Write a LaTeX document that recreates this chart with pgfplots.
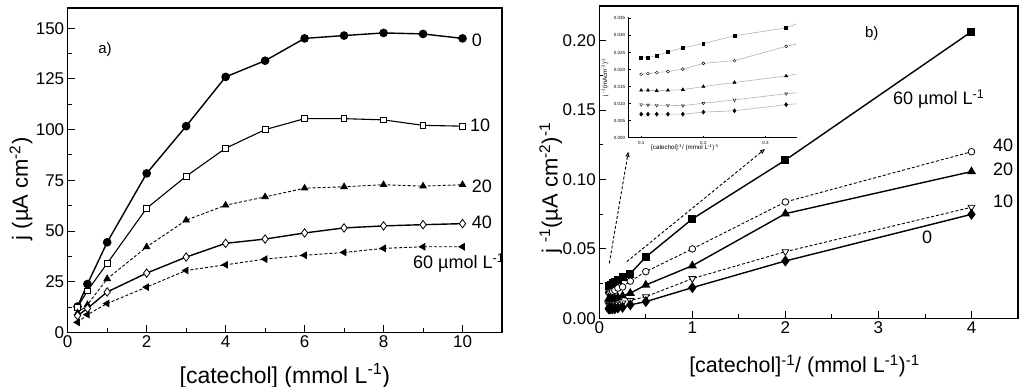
\documentclass[border=0pt]{standalone}
\usepackage{fontspec}
\setmainfont{Liberation Sans}
\usepackage{pgfplots}
\usepackage{pgfplotstable}
\pgfplotsset{compat=1.18}
\usetikzlibrary{arrows.meta}

\pgfplotstableread{
x     s0     s10    s20    s40    s60
0.25  12.7   12.4   9.5    8.2    4.9
0.5   23.8   20.5   13.6   11.8   8.7
1     44.4   34.0   26.4   19.9   14.2
2     78.4   61.2   42.1   29.2   22.3
3     101.7  77.0   55.3   37.1   30.5
4     126.0  90.8   62.7   43.9   33.3
5     134.0  100.0  66.8   46.0   36.1
6     145.0  105.4  71.1   49.0   38.0
7     146.4  105.4  71.8   51.5   39.4
8     147.7  104.8  72.8   52.5   41.4
9     147.2  102.1  72.1   53.1   42.2
10    145.0  101.7  72.8   53.6   42.2
}\leftdata

\pgfplotstableread{
x      s0      s10     s20     s40     s60
0.1    0.0069  0.0097  0.0139  0.0186  0.0235
0.111  0.0069  0.0096  0.0139  0.0188  0.0235
0.125  0.0069  0.0095  0.0138  0.0191  0.0241
0.143  0.0069  0.0095  0.0139  0.0194  0.0251
0.167  0.0069  0.0094  0.0141  0.0201  0.0264
0.2    0.0075  0.0101  0.0150  0.0218  0.0276
0.25   0.0079  0.0111  0.0162  0.0226  0.0299
0.333  0.0097  0.0129  0.0181  0.0268  0.0322
0.5    0.0120  0.0156  0.0240  0.0336  0.0442
1      0.0221  0.0286  0.0379  0.0500  0.0716
2      0.0413  0.0480  0.0754  0.0838  0.1140
4      0.0749  0.0800  0.1057  0.1200  0.2065
}\rightdata

\begin{document}
\begin{tikzpicture}[x=1pt,y=1pt]
\path[use as bounding box] (0,0) rectangle (1024,387);

\pgfplotsset{
  mainax/.style={
    scale only axis,
    font=\fontsize{17}{19}\selectfont,
    /pgf/number format/assume math mode=true,
    tick align=inside,
    tick pos=left,
    axis line style={line width=1.1pt},
    every tick/.style={black,line width=0.9pt},
    major tick length=7pt,
    minor tick length=4pt,
    minor x tick num=1,
    minor y tick num=1,
  },
  dsh/.style={line width=0.9pt, dash pattern=on 3pt off 2pt},
}

% ---------- left panel ----------
\begin{axis}[mainax,
  at={(67.7pt,54.7pt)}, anchor=south west,
  width=434.3pt, height=324.3pt,
  xmin=0, xmax=11, ymin=0, ymax=160,
  xtick={0,2,4,6,8,10}, ytick={0,25,50,75,100,125,150},
  xlabel={[catechol] (mmol L\textsuperscript{-1})},
  ylabel={j (µA cm\textsuperscript{-2})},
  x label style={font=\fontsize{23}{25}\selectfont, at={(axis description cs:0.5,-0.135)},anchor=center},
  y label style={font=\fontsize{22}{24}\selectfont, at={(axis description cs:-0.1075,0.442)},anchor=center},
]
\addplot[black, line width=1.4pt, mark=*, mark size=3.6pt] table[x=x,y=s0]{\leftdata};
\addplot[black, line width=1.1pt, mark=square*, mark size=2.8pt, mark options={fill=white,line width=0.8pt}] table[x=x,y=s10]{\leftdata};
\addplot[black, dsh, mark=triangle*, mark size=3.6pt, mark options={solid}] table[x=x,y=s20]{\leftdata};
\addplot[black, line width=1.4pt, mark=diamond*, mark size=4.2pt, mark options={fill=white,line width=0.8pt}] table[x=x,y=s40]{\leftdata};
\addplot[black, dsh, mark=triangle*, mark size=3.6pt, mark options={solid,rotate=90}] table[x=x,y=s60]{\leftdata};
\end{axis}

% ---------- right panel ----------
\begin{axis}[mainax,
  at={(599.3pt,68.7pt)}, anchor=south west,
  width=418.7pt, height=312.3pt,
  xmin=0, xmax=4.5, ymin=0, ymax=0.225,
  xtick={0,1,2,3,4}, ytick={0,0.05,0.10,0.15,0.20},
  scaled y ticks=false,
  yticklabel style={/pgf/number format/fixed,/pgf/number format/fixed zerofill,/pgf/number format/precision=2},
  xlabel={[catechol]\textsuperscript{-1}/ (mmol L\textsuperscript{-1})\textsuperscript{-1}},
  ylabel={j \textsuperscript{-1}(µA cm\textsuperscript{-2})\textsuperscript{-1}},
  x label style={font=\fontsize{21.5}{24}\selectfont, at={(axis description cs:0.49,-0.153)},anchor=center},
  y label style={font=\fontsize{22}{24}\selectfont, at={(axis description cs:-0.116,0.417)},anchor=center},
]
\addplot[black, line width=1.4pt, mark=square*, mark size=3.3pt] table[x=x,y=s60]{\rightdata};
\addplot[black, dsh, mark=*, mark size=3.3pt, mark options={solid,fill=white,line width=0.8pt}] table[x=x,y=s40]{\rightdata};
\addplot[black, line width=1.4pt, mark=triangle*, mark size=3.9pt] table[x=x,y=s20]{\rightdata};
\addplot[black, dsh, mark=triangle*, mark size=3.9pt, mark options={solid,fill=white,rotate=180,line width=0.8pt}] table[x=x,y=s10]{\rightdata};
\addplot[black, line width=1.4pt, mark=diamond*, mark size=4.4pt] table[x=x,y=s0]{\rightdata};
\end{axis}

% ---------- inset ----------
\begin{axis}[
  at={(628.7pt,249.3pt)}, anchor=south west,
  scale only axis, width=168pt, height=121pt,
  xmin=0.08, xmax=0.35, ymin=0, ymax=0.0355,
  axis x line*=bottom, axis y line*=left,
  axis line style={line width=0.6pt},
  every tick/.style={black,line width=0.4pt},
  major tick length=2pt,
  tick align=inside,
  font=\fontsize{4.5}{5}\selectfont,
  /pgf/number format/assume math mode=true,
  xtick={0.1,0.2,0.3},
  ytick={0,0.005,0.010,0.015,0.020,0.025,0.030,0.035},
  scaled y ticks=false, scaled x ticks=false,
  yticklabel style={/pgf/number format/fixed,/pgf/number format/fixed zerofill,/pgf/number format/precision=3},
  xticklabel style={/pgf/number format/fixed,/pgf/number format/precision=1},
  clip marker paths=true,
  xlabel={[catechol]\textsuperscript{-1}/ (mmol L\textsuperscript{-1})\textsuperscript{-1}},
  ylabel={j \textsuperscript{-1}(mAcm\textsuperscript{-2})\textsuperscript{-1}},
  label style={font=\fontsize{6.2}{7}\selectfont},
  x label style={at={(axis description cs:0.335,-0.083)},anchor=center},
  y label style={at={(axis description cs:-0.141,0.5)},anchor=center},
]
\addplot[gray!60, line width=0.6pt, mark=square*, mark size=1.4pt, mark options={black}] table[x=x,y=s60]{\rightdata};
\addplot[gray!60, line width=0.6pt, mark=*, mark size=1.5pt, mark options={draw=black,fill=white,line width=0.4pt}] table[x=x,y=s40]{\rightdata};
\addplot[gray!60, line width=0.6pt, mark=triangle*, mark size=1.7pt, mark options={black}] table[x=x,y=s20]{\rightdata};
\addplot[gray!60, line width=0.6pt, mark=triangle*, mark size=1.7pt, mark options={draw=black,fill=white,rotate=180,line width=0.4pt}] table[x=x,y=s10]{\rightdata};
\addplot[gray!60, line width=0.6pt, mark=diamond*, mark size=1.9pt, mark options={black}] table[x=x,y=s0]{\rightdata};
\end{axis}

% ---------- annotations ----------
\draw[black, line width=0.9pt, dash pattern=on 3pt off 2pt, -{Triangle[open,length=5pt,width=4pt]}] (609.3,123.7) -- (628.3,235.3);
\draw[black, line width=0.9pt, dash pattern=on 3pt off 2pt, -{Triangle[open,length=5pt,width=4pt]}] (626.7,125.3) -- (765,238);

\begin{scope}[every node/.style={inner sep=0pt, font=\fontsize{18}{20}\selectfont}]
\node[font=\fontsize{15}{17}\selectfont] at (105,337.7) {a)};
\node[anchor=west] at (471.7,346.3) {0};
\node[anchor=west] at (470,262) {10};
\node[anchor=west] at (471.7,201) {20};
\node[anchor=west] at (471.7,164.3) {40};
\node[anchor=west] at (413,123.7) {60 µmol L\textsuperscript{-1}};

\node[font=\fontsize{15}{17}\selectfont] at (871.7,353.7) {b)};
\node[anchor=west] at (893,287.7) {60 µmol L\textsuperscript{-1}};
\node[anchor=west] at (993,241.3) {40};
\node[anchor=west] at (993,218) {20};
\node[anchor=west] at (993,185.3) {10};
\node at (927,149.7) {0};
\end{scope}
\end{tikzpicture}
\end{document}
